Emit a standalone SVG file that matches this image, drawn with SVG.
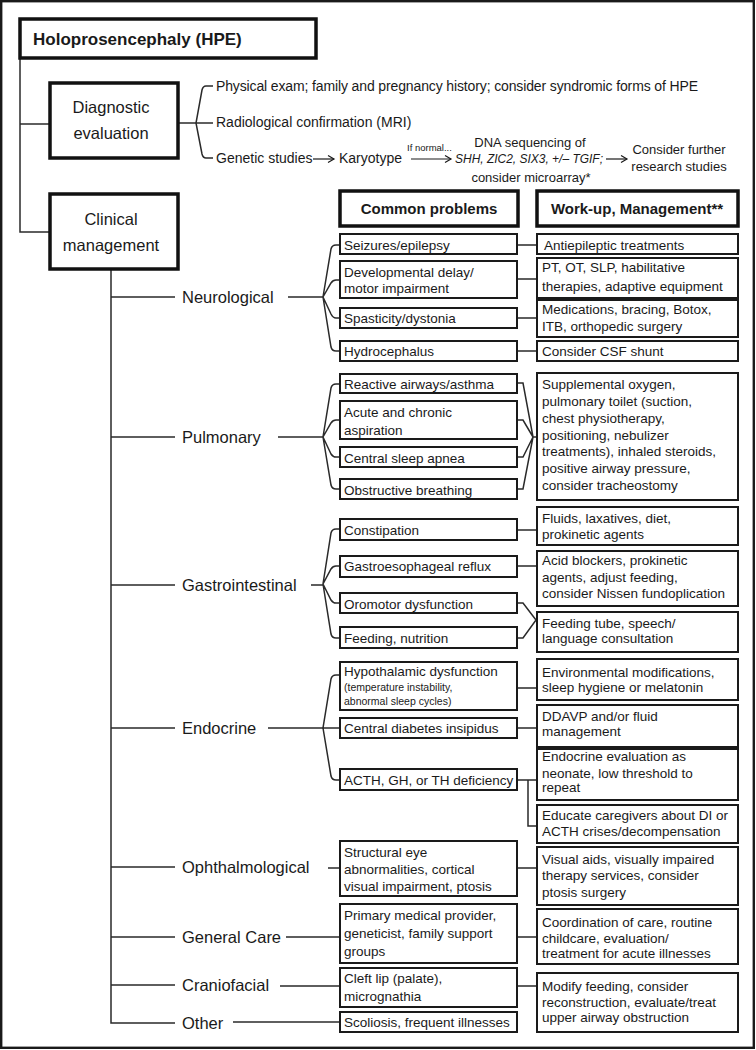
<svg xmlns="http://www.w3.org/2000/svg" width="756" height="1050" viewBox="0 0 756 1050">
<defs>
<style>
.t{font-family:"Liberation Sans",Arial,sans-serif;font-size:13.5px;fill:#1a1a1a}
.s{font-size:10.5px}
.d{font-size:14px}
.g{font-size:13px}
.c{font-size:16.5px}
.b{font-weight:bold}
.box{fill:#fff;stroke:#1a1a1a;stroke-width:2}
.hbox{fill:#fff;stroke:#111;stroke-width:3.5}
.conn path{fill:none;stroke:#2a2a2a;stroke-width:1.5}
.arr{fill:none;stroke:#1a1a1a;stroke-width:1.2}
</style>
<marker id="ah" markerWidth="10" markerHeight="10" refX="7" refY="4" orient="auto" markerUnits="userSpaceOnUse">
<path d="M1,0.5 L7,4 L1,7.5" fill="none" stroke="#1a1a1a" stroke-width="1.2"/>
</marker>
</defs>
<rect x="1.2" y="1.2" width="752.6" height="1046.6" fill="#fff" stroke="#1a1a1a" stroke-width="2.4"/>

<g class="conn" id="connectors">
<path d="M20,58 V232 H50"/>
<path d="M20,124 H50"/>
<path d="M178,123 H196"/>
<path d="M213,86 H206 Q203,86 202,90 L196,123 L202,154 Q203,158 206,158 H213"/>
<path d="M196,123 H213"/>
<path d="M111,269 V1023 H175"/>
<path d="M111,297 H175 M111,437 H175 M111,585 H175 M111,728 H175 M111,867 H175 M111,937 H175 M111,985 H175"/>
<path d="M288,297 H323 M278,437 H323 M311,585 H323 M268,728 H323"/>
<path d="M340,245 H336 Q332,245 331,249 L323,297 M340,280 H336 Q333,280 331,283 L323,297 M340,318 H336 Q333,318 331,314 L323,297 M340,351 H336 Q332,351 331,347 L323,297"/>
<path d="M340,384 H336 Q332,384 331,388 L323,437 M340,420 H336 Q333,420 331,423 L323,437 M340,457 H336 Q333,457 331,454 L323,437 M340,489 H336 Q332,489 331,485 L323,437"/>
<path d="M340,529 H336 Q332,529 331,533 L323,584 M340,566 H336 Q333,566 331,569 L323,584 M340,603 H336 Q333,603 331,600 L323,584 M340,638 H336 Q332,638 331,634 L323,584"/>
<path d="M340,675 H336 Q332,675 331,679 L323,728 H340 M340,780 H336 Q332,780 331,776 L323,728"/>
<path d="M517,245 H537 M517,279 H537 M517,318 H537 M517,351 H537"/>
<path d="M517,383 H523 L533,437 H537 M517,420 H523 L533,437 M517,457 H523 L533,437 M517,489 H523 L533,437"/>
<path d="M517,530 H537 M517,566 H537"/>
<path d="M517,603 H523 L536,620 M517,638 H523 L536,620 H538"/>
<path d="M517,688 H537 M517,728 H537 M517,780 H537 M528,780 V826 H537"/>
<path d="M328,868 H340 M517,868 H537"/>
<path d="M286,937 H340 M517,937 H537"/>
<path d="M280,986 H340 M517,986 H537"/>
<path d="M233,1022 H340"/>
</g>

<g id="hpe">
<rect class="hbox" x="20" y="19" width="296" height="39"/>
<text class="t b" x="33" y="45" style="font-size:17px">Holoprosencephaly (HPE)</text>
</g>

<g id="diagnostic">
<rect class="hbox" x="50" y="83" width="128" height="75"/>
<text class="t c" x="111" y="113" text-anchor="middle">Diagnostic</text>
<text class="t c" x="111" y="139" text-anchor="middle">evaluation</text>
</g>

<g id="diag-items">
<text class="t d" x="216" y="91" textLength="482">Physical exam; family and pregnancy history; consider syndromic forms of HPE</text>
<text class="t d" x="216" y="127">Radiological confirmation (MRI)</text>
<text class="t d" x="216" y="163">Genetic studies</text>
<path class="arr" d="M313,159 H334" marker-end="url(#ah)"/>
<text class="t d" x="339" y="163">Karyotype</text>
<text class="t" x="407" y="151" style="font-size:9.5px">If normal...</text>
<path class="arr" d="M411,159 H451" marker-end="url(#ah)"/>
<text class="t g" x="530" y="147" text-anchor="middle">DNA sequencing of</text>
<text class="t g" x="455" y="163" font-style="italic" textLength="148" lengthAdjust="spacingAndGlyphs">SHH, ZIC2, SIX3, +/– TGIF;</text>
<text class="t g" x="531" y="182" text-anchor="middle">consider microarray*</text>
<path class="arr" d="M606,159 H627" marker-end="url(#ah)"/>
<text class="t g" x="679" y="154" text-anchor="middle">Consider further</text>
<text class="t g" x="679" y="171" text-anchor="middle">research studies</text>
</g>

<g id="clinical">
<rect class="hbox" x="50" y="194" width="128" height="75"/>
<text class="t c" x="111" y="225" text-anchor="middle">Clinical</text>
<text class="t c" x="111" y="251" text-anchor="middle">management</text>
</g>

<g id="headers">
<rect class="hbox" x="340" y="191" width="178" height="35"/>
<text class="t b" x="429" y="214" text-anchor="middle" style="font-size:15px">Common problems</text>
<rect class="hbox" x="537" y="191" width="201" height="35"/>
<text class="t b" x="637" y="214" text-anchor="middle" style="font-size:15px">Work-up, Management**</text>
</g>

<g id="categories">
<text class="t c" x="182" y="303">Neurological</text>
<text class="t c" x="182" y="443">Pulmonary</text>
<text class="t c" x="182" y="591">Gastrointestinal</text>
<text class="t c" x="182" y="734">Endocrine</text>
<text class="t c" x="182" y="873">Ophthalmological</text>
<text class="t c" x="182" y="943">General Care</text>
<text class="t c" x="182" y="991">Craniofacial</text>
<text class="t c" x="182" y="1029">Other</text>
</g>

<g id="problems">
<g id="p-seizures"><rect class="box" x="340" y="234" width="177" height="20"/><text class="t" x="344" y="249.5">Seizures/epilepsy</text></g>
<g id="p-dev"><rect class="box" x="340" y="261" width="177" height="37"/><text class="t" x="344" y="277">Developmental delay/</text><text class="t" x="344" y="293">motor impairment</text></g>
<g id="p-spas"><rect class="box" x="340" y="308" width="177" height="20"/><text class="t" x="344" y="323">Spasticity/dystonia</text></g>
<g id="p-hydro"><rect class="box" x="340" y="341" width="177" height="20"/><text class="t" x="344" y="356">Hydrocephalus</text></g>
<g id="p-reactive"><rect class="box" x="340" y="374" width="177" height="19"/><text class="t" x="344" y="388.5">Reactive airways/asthma</text></g>
<g id="p-acute"><rect class="box" x="340" y="401" width="177" height="38"/><text class="t" x="344" y="417">Acute and chronic</text><text class="t" x="344" y="435">aspiration</text></g>
<g id="p-csa"><rect class="box" x="340" y="447" width="177" height="20"/><text class="t" x="344" y="462.5">Central sleep apnea</text></g>
<g id="p-obs"><rect class="box" x="340" y="479" width="177" height="20"/><text class="t" x="344" y="494.5">Obstructive breathing</text></g>
<g id="p-const"><rect class="box" x="340" y="519" width="177" height="21"/><text class="t" x="344" y="535">Constipation</text></g>
<g id="p-gerd"><rect class="box" x="340" y="556" width="177" height="21"/><text class="t" x="344" y="571">Gastroesophageal reflux</text></g>
<g id="p-oro"><rect class="box" x="340" y="593" width="177" height="20"/><text class="t" x="344" y="608.5">Oromotor dysfunction</text></g>
<g id="p-feed"><rect class="box" x="340" y="627" width="177" height="21"/><text class="t" x="344" y="642.5">Feeding, nutrition</text></g>
<g id="p-hypo"><rect class="box" x="340" y="662" width="177" height="48"/><text class="t" x="344" y="675.5">Hypothalamic dysfunction</text><text class="t s" x="344" y="691">(temperature instability,</text><text class="t s" x="344" y="705">abnormal sleep cycles)</text></g>
<g id="p-cdi"><rect class="box" x="340" y="718" width="177" height="20"/><text class="t" x="344" y="733">Central diabetes insipidus</text></g>
<g id="p-acth"><rect class="box" x="340" y="769" width="177" height="21"/><text class="t" x="344" y="784.5">ACTH, GH, or TH deficiency</text></g>
<g id="p-eye"><rect class="box" x="340" y="841" width="177" height="55"/><text class="t" x="344" y="857">Structural eye</text><text class="t" x="344" y="874">abnormalities, cortical</text><text class="t" x="344" y="891">visual impairment, ptosis</text></g>
<g id="p-primary"><rect class="box" x="340" y="904" width="177" height="59"/><text class="t" x="344" y="920">Primary medical provider,</text><text class="t" x="344" y="938">geneticist, family support</text><text class="t" x="344" y="956">groups</text></g>
<g id="p-cleft"><rect class="box" x="340" y="968" width="177" height="39"/><text class="t" x="344" y="983">Cleft lip (palate),</text><text class="t" x="344" y="1001">micrognathia</text></g>
<g id="p-other"><rect class="box" x="340" y="1012" width="177" height="20"/><text class="t" x="344" y="1027">Scoliosis, frequent illnesses</text></g>
</g>

<g id="workup">
<g id="w-anti"><rect class="box" x="537" y="234" width="201" height="20"/><text class="t" x="544" y="249.5">Antiepileptic treatments</text></g>
<g id="w-pt"><rect class="box" x="537" y="258" width="201" height="40"/><text class="t" x="542" y="272">PT, OT, SLP, habilitative</text><text class="t" x="542" y="291">therapies, adaptive equipment</text></g>
<g id="w-meds"><rect class="box" x="537" y="300" width="201" height="37"/><text class="t" x="542" y="313.5">Medications, bracing, Botox,</text><text class="t" x="542" y="331">ITB, orthopedic surgery</text></g>
<g id="w-csf"><rect class="box" x="537" y="341" width="201" height="20"/><text class="t" x="542" y="356">Consider CSF shunt</text></g>
<g id="w-pulm"><rect class="box" x="537" y="373" width="201" height="127"/>
<text class="t" x="542" y="389">Supplemental oxygen,</text><text class="t" x="542" y="406">pulmonary toilet (suction,</text><text class="t" x="542" y="423">chest physiotherapy,</text><text class="t" x="542" y="440">positioning, nebulizer</text><text class="t" x="542" y="456">treatments), inhaled steroids,</text><text class="t" x="542" y="473">positive airway pressure,</text><text class="t" x="542" y="490">consider tracheostomy</text></g>
<g id="w-fluids"><rect class="box" x="537" y="507" width="201" height="38"/><text class="t" x="542" y="523">Fluids, laxatives, diet,</text><text class="t" x="542" y="539">prokinetic agents</text></g>
<g id="w-acid"><rect class="box" x="537" y="551" width="201" height="55"/><text class="t" x="542" y="565">Acid blockers, prokinetic</text><text class="t" x="542" y="582">agents, adjust feeding,</text><text class="t" x="542" y="598">consider Nissen fundoplication</text></g>
<g id="w-tube"><rect class="box" x="537" y="612" width="201" height="40"/><text class="t" x="542" y="628">Feeding tube, speech/</text><text class="t" x="542" y="643">language consultation</text></g>
<g id="w-env"><rect class="box" x="537" y="659" width="201" height="41"/><text class="t" x="542" y="677">Environmental modifications,</text><text class="t" x="542" y="692">sleep hygiene or melatonin</text></g>
<g id="w-ddavp"><rect class="box" x="537" y="705" width="201" height="42"/><text class="t" x="542" y="721">DDAVP and/or fluid</text><text class="t" x="542" y="736">management</text></g>
<g id="w-endo"><rect class="box" x="537" y="749" width="201" height="51"/><text class="t" x="542" y="761">Endocrine evaluation as</text><text class="t" x="542" y="778">neonate, low threshold to</text><text class="t" x="542" y="792">repeat</text></g>
<g id="w-educ"><rect class="box" x="537" y="805" width="201" height="38"/><text class="t" x="542" y="820">Educate caregivers about DI or</text><text class="t" x="542" y="836">ACTH crises/decompensation</text></g>
<g id="w-visual"><rect class="box" x="537" y="847" width="201" height="58"/><text class="t" x="542" y="864">Visual aids, visually impaired</text><text class="t" x="542" y="880">therapy services, consider</text><text class="t" x="542" y="897">ptosis surgery</text></g>
<g id="w-coord"><rect class="box" x="537" y="909" width="201" height="55"/><text class="t" x="542" y="927">Coordination of care, routine</text><text class="t" x="542" y="943">childcare, evaluation/</text><text class="t" x="542" y="958">treatment for acute illnesses</text></g>
<g id="w-modify"><rect class="box" x="537" y="973" width="201" height="59"/><text class="t" x="542" y="991">Modify feeding, consider</text><text class="t" x="542" y="1007">reconstruction, evaluate/treat</text><text class="t" x="542" y="1022">upper airway obstruction</text></g>
</g>
</svg>
